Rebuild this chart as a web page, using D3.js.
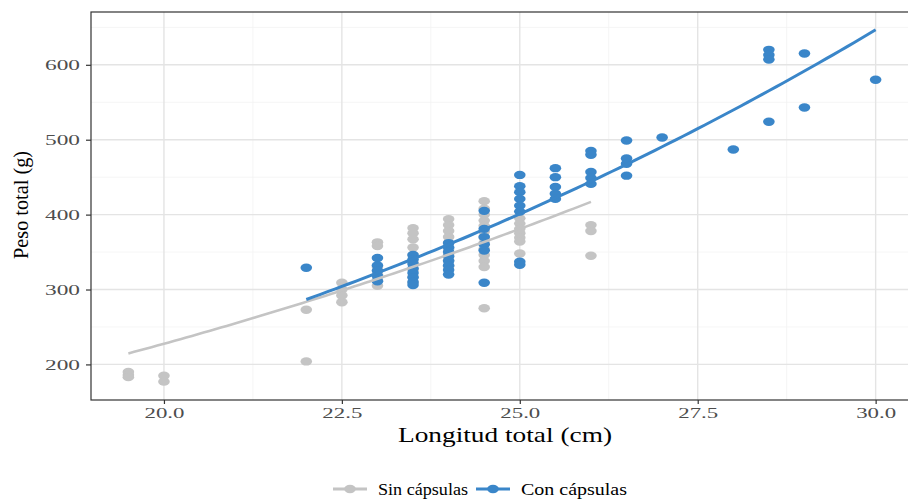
<!DOCTYPE html>
<html><head><meta charset="utf-8">
<script src="https://cdn.jsdelivr.net/npm/d3@7/dist/d3.min.js"></script>
<style>body{margin:0;background:#fff}</style>
</head><body><svg id="c" width="908" height="500"></svg>
<script>
// ---- data ----
const sinLength = [19.5,19.5,19.5, 20,20, 22,22, 22.5,22.5,22.5,22.5,
  23,23,23,23,23,23,
  23.5,23.5,23.5,23.5,23.5,23.5,23.5,23.5,23.5,
  24,24,24,24,24,24,24,24,24,
  24.5,24.5,24.5,24.5,24.5,24.5,24.5,24.5,24.5,24.5,24.5,24.5,24.5,
  25,25,25,25,25,25,25,
  26,26,26];
const sinWeight = [190,186,183, 185,177, 273,204, 309,300,292,283,
  363,358,330,320,312,305,
  382,375,367,356,346,336,326,317,309,
  394,386,378,370,362,354,346,339,331,
  418,408,400,392,385,377,369,362,354,346,338,330,275,
  395,388,381,375,369,364,348,
  386,378,345];
const conLength = [22,
  23,23,23,23,23,
  23.5,23.5,23.5,23.5,23.5,23.5,23.5,23.5,
  24,24,24,24,24,24,24,24,
  24.5,24.5,24.5,24.5,24.5,24.5,
  25,25,25,25,25,25,25,25,
  25.5,25.5,25.5,25.5,25.5,
  26,26,26,26,26,
  26.5,26.5,26.5,26.5,
  27, 28, 28.5,28.5,28.5,28.5, 29,29, 30];
const conWeight = [329,
  342,332,325,318,311,
  346,340,334,328,322,316,310,306,
  362,356,350,344,338,332,326,320,
  405,381,370,360,352,309,
  453,438,430,421,412,404,337,333,
  462,450,437,428,421,
  485,480,457,449,441,
  499,475,468,452,
  503, 487, 620,613,607,524, 615,543, 580];
// fitted power-law curves (W = a·L^b), given by their end values
const sinFitLength = [19.5, 26];
const sinFitWeight = [214.7, 417];
const conFitLength = [22, 30];
const conFitWeight = [286.7, 646.7];
const xTicks = [20, 22.5, 25, 27.5, 30];
const xMinor = [18.75, 21.25, 23.75, 26.25, 28.75];
const yTicks = [200, 300, 400, 500, 600];
const yMinor = [250, 350, 450, 550, 650];
const seriesNames = ["Sin cápsulas", "Con cápsulas"];
const seriesColors = ["#c4c4c4", "#3a86c9"];
const xTitle = "Longitud total (cm)";
const yTitle = "Peso total (g)";

// ---- layout ----
const svg = d3.select("#c");
const P = {l: 91, r: 913, t: 12, b: 400};
const x = d3.scaleLinear().domain([18.975, 30.525]).range([P.l, P.r]);
const y = d3.scaleLinear().domain([152.5, 670.5]).range([P.b, P.t]);

svg.append("rect").attr("width", 908).attr("height", 500).attr("fill", "#fff");

// grid
const g = svg.append("g");
g.selectAll(".xm").data(xMinor.filter(v => x(v) > P.l)).join("line")
  .attr("x1", d => x(d)).attr("x2", d => x(d)).attr("y1", P.t).attr("y2", P.b)
  .attr("stroke", "#f2f2f2").attr("stroke-width", 0.8);
g.selectAll(".ym").data(yMinor).join("line")
  .attr("x1", P.l).attr("x2", P.r).attr("y1", d => y(d)).attr("y2", d => y(d))
  .attr("stroke", "#f2f2f2").attr("stroke-width", 0.8);
g.selectAll(".xM").data(xTicks).join("line")
  .attr("x1", d => x(d)).attr("x2", d => x(d)).attr("y1", P.t).attr("y2", P.b)
  .attr("stroke", "#e4e4e4").attr("stroke-width", 1.4);
g.selectAll(".yM").data(yTicks).join("line")
  .attr("x1", P.l).attr("x2", P.r).attr("y1", d => y(d)).attr("y2", d => y(d))
  .attr("stroke", "#e4e4e4").attr("stroke-width", 1.4);

// points
const sinPts = sinLength.map((l, i) => [l, sinWeight[i]]);
const conPts = conLength.map((l, i) => [l, conWeight[i]]);
[sinPts, conPts].forEach((pts, k) => {
  svg.append("g").selectAll("ellipse").data(pts).join("ellipse")
    .attr("cx", d => x(d[0])).attr("cy", d => y(d[1]))
    .attr("rx", 5.8).attr("ry", 4.2).attr("fill", seriesColors[k]);
});

// power-law curves through the read end values
function powerCurve(L, W) {
  const b = Math.log(W[1] / W[0]) / Math.log(L[1] / L[0]);
  const a = W[0] / Math.pow(L[0], b);
  return d3.range(0, 81).map(i => { const t = L[0] + (L[1] - L[0]) * i / 80; return [t, a * Math.pow(t, b)]; });
}
const line = d3.line().x(d => x(d[0])).y(d => y(d[1]));
[[sinFitLength, sinFitWeight], [conFitLength, conFitWeight]].forEach((f, k) => {
  svg.append("path").attr("d", line(powerCurve(f[0], f[1]))).attr("fill", "none")
    .attr("stroke", seriesColors[k]).attr("stroke-width", k ? 3 : 2.6);
});

// panel border
svg.append("rect").attr("x", P.l).attr("y", P.t).attr("width", P.r - P.l).attr("height", P.b - P.t)
  .attr("fill", "none").attr("stroke", "#333").attr("stroke-width", 1.2);

// axes
const font = "'Liberation Serif', 'Times New Roman', serif";
const xa = svg.append("g").attr("transform", `translate(0,${P.b})`)
  .call(d3.axisBottom(x).tickValues(xTicks).tickFormat(d3.format(".1f")).tickSize(4).tickPadding(3));
const ya = svg.append("g").attr("transform", `translate(${P.l},0)`)
  .call(d3.axisLeft(y).tickValues(yTicks).tickFormat(d3.format("d")).tickSize(5).tickPadding(6));
[xa, ya].forEach(a => {
  a.select(".domain").remove();
  a.selectAll(".tick line").attr("stroke", "#333").attr("stroke-width", 1.2);
  a.selectAll("text").attr("fill", "#4d4d4d").attr("font-family", font).attr("font-size", 15);
});
xa.selectAll("text").attr("textLength", 40).attr("lengthAdjust", "spacingAndGlyphs");
ya.selectAll("text").attr("textLength", 35).attr("lengthAdjust", "spacingAndGlyphs");

// titles
svg.append("text").attr("x", 505).attr("y", 442).attr("text-anchor", "middle")
  .attr("font-family", font).attr("font-size", 21).attr("fill", "#000")
  .attr("textLength", 214).attr("lengthAdjust", "spacingAndGlyphs").text(xTitle);
svg.append("text").attr("transform", "translate(28,205) scale(1.15,1) rotate(-90)")
  .attr("text-anchor", "middle").attr("font-family", font).attr("font-size", 19).attr("fill", "#000")
  .attr("textLength", 108).attr("lengthAdjust", "spacingAndGlyphs").text(yTitle);

// legend
const legX = [333, 476], legTextX = [378, 521], legW = [90, 106];
const lg = svg.append("g");
seriesNames.forEach((name, k) => {
  lg.append("line").attr("x1", legX[k]).attr("x2", legX[k] + 34).attr("y1", 489).attr("y2", 489)
    .attr("stroke", seriesColors[k]).attr("stroke-width", 3);
  lg.append("ellipse").attr("cx", legX[k] + 17).attr("cy", 489).attr("rx", 5.8).attr("ry", 4.2)
    .attr("fill", seriesColors[k]);
  lg.append("text").attr("x", legTextX[k]).attr("y", 495).attr("font-family", font)
    .attr("font-size", 17).attr("fill", "#000").attr("textLength", legW[k])
    .attr("lengthAdjust", "spacingAndGlyphs").text(name);
});
</script></body></html>
